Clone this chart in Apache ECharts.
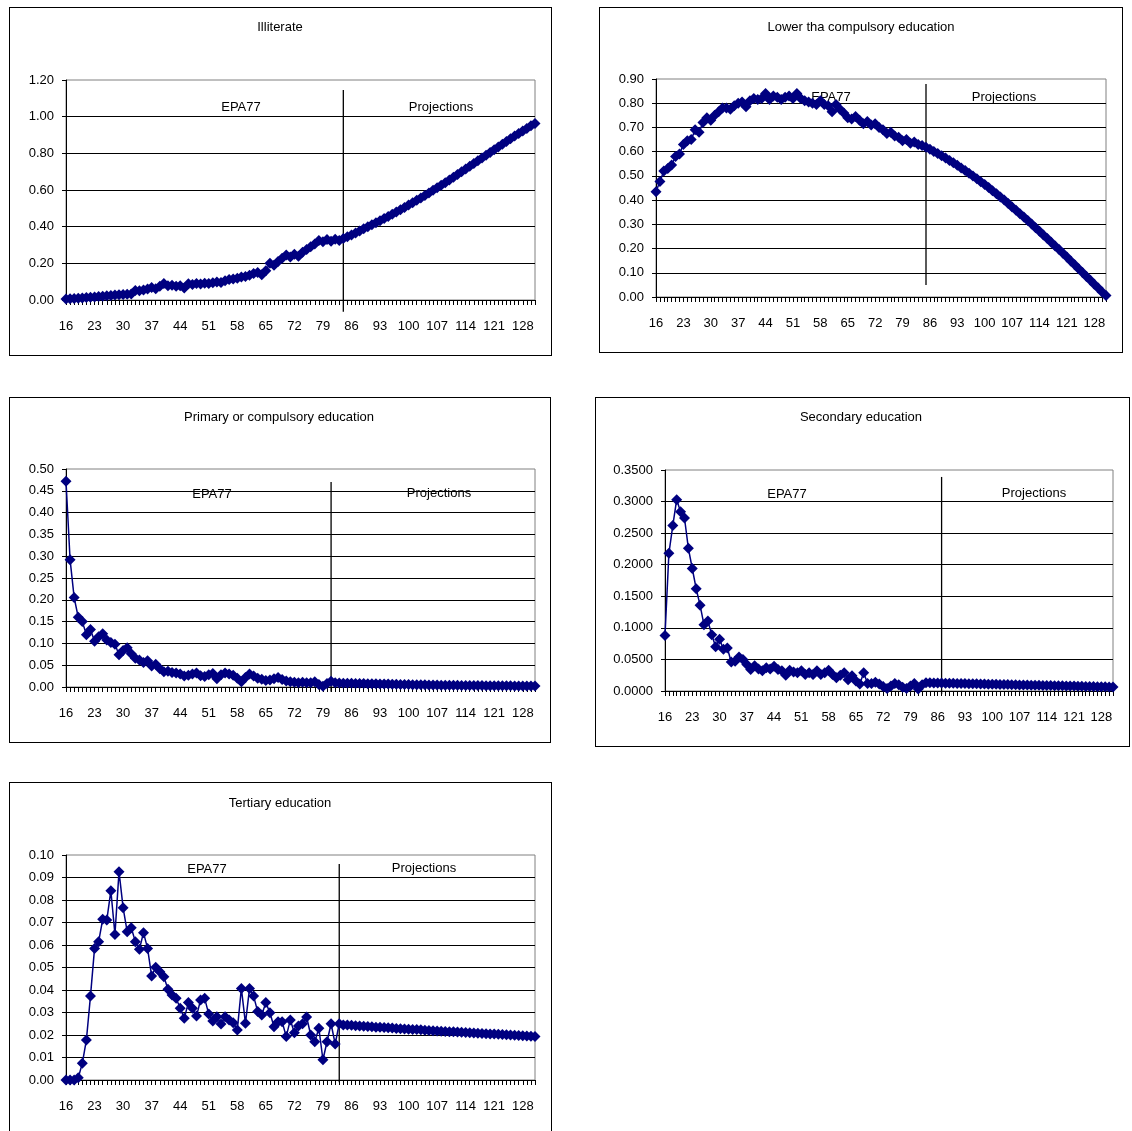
<!DOCTYPE html>
<html><head><meta charset="utf-8">
<script src="https://cdn.jsdelivr.net/npm/echarts@6/dist/echarts.min.js"></script>
<style>
html,body{margin:0;padding:0;background:#fff;width:1132px;height:1131px;overflow:hidden;}
.panel{position:absolute;box-sizing:border-box;border:1px solid #000;background:#fff;}
</style></head><body>
<div id="p1" class="panel" style="left:9px;top:7px;width:543px;height:349px"></div>
<div id="p2" class="panel" style="left:599px;top:7px;width:524px;height:346px"></div>
<div id="p3" class="panel" style="left:9px;top:397px;width:542px;height:346px"></div>
<div id="p4" class="panel" style="left:595px;top:397px;width:535px;height:350px"></div>
<div id="p5" class="panel" style="left:9px;top:782px;width:543px;height:360px"></div>
<script>
// ---------- DATA ----------
const ages = [
  16,17,18,19,20,21,22,23,24,25,
  26,27,28,29,30,31,32,33,34,35,
  36,37,38,39,40,41,42,43,44,45,
  46,47,48,49,50,51,52,53,54,55,
  56,57,58,59,60,61,62,63,64,65,
  66,67,68,69,70,71,72,73,74,75,
  76,77,78,79,80,81,82,83,84,85,
  86,87,88,89,90,91,92,93,94,95,
  96,97,98,99,100,101,102,103,104,105,
  106,107,108,109,110,111,112,113,114,115,
  116,117,118,119,120,121,122,123,124,125,
  126,127,128,129,130,131
];

const illiterate = [
  0.005,0.007,0.008,0.010,0.011,0.013,0.015,0.017,0.019,0.021,
  0.023,0.025,0.027,0.029,0.030,0.032,0.033,0.052,0.050,0.055,
  0.060,0.068,0.062,0.075,0.090,0.078,0.080,0.075,0.078,0.066,
  0.088,0.085,0.090,0.087,0.092,0.090,0.094,0.098,0.096,0.105,
  0.112,0.115,0.118,0.125,0.128,0.135,0.145,0.150,0.138,0.160,
  0.200,0.190,0.210,0.228,0.245,0.235,0.250,0.238,0.260,0.275,
  0.290,0.305,0.325,0.318,0.330,0.320,0.332,0.325,0.335,0.345,
  0.355,0.366,0.377,0.388,0.399,0.410,0.421,0.432,0.444,0.456,
  0.468,0.480,0.492,0.505,0.518,0.531,0.544,0.557,0.570,0.584,
  0.598,0.612,0.626,0.640,0.655,0.670,0.685,0.700,0.715,0.730,
  0.745,0.760,0.775,0.790,0.805,0.820,0.835,0.850,0.865,0.880,
  0.894,0.908,0.922,0.936,0.950,0.963
];

const lowerCompulsory = [
  0.435,0.477,0.520,0.530,0.545,0.580,0.590,0.630,0.645,0.650,
  0.690,0.680,0.720,0.740,0.730,0.750,0.765,0.780,0.780,0.775,
  0.790,0.800,0.805,0.785,0.810,0.820,0.815,0.820,0.840,0.815,
  0.830,0.825,0.815,0.825,0.830,0.820,0.840,0.820,0.810,0.805,
  0.800,0.795,0.810,0.795,0.790,0.765,0.795,0.775,0.760,0.740,
  0.735,0.745,0.730,0.715,0.725,0.710,0.715,0.700,0.690,0.675,
  0.680,0.665,0.660,0.645,0.650,0.635,0.640,0.630,0.625,0.618,
  0.610,0.601,0.592,0.583,0.574,0.564,0.554,0.544,0.533,0.522,
  0.511,0.500,0.488,0.476,0.464,0.452,0.439,0.426,0.413,0.400,
  0.386,0.372,0.358,0.344,0.330,0.316,0.301,0.286,0.271,0.256,
  0.241,0.226,0.211,0.196,0.181,0.165,0.149,0.133,0.117,0.101,
  0.085,0.069,0.053,0.037,0.021,0.006
];

const primary = [
  0.472,0.292,0.205,0.160,0.150,0.120,0.132,0.105,0.115,0.122,
  0.108,0.102,0.098,0.074,0.084,0.090,0.076,0.066,0.062,0.056,
  0.060,0.048,0.052,0.042,0.035,0.036,0.033,0.032,0.030,0.025,
  0.027,0.030,0.032,0.026,0.024,0.028,0.031,0.019,0.028,0.032,
  0.030,0.027,0.020,0.012,0.022,0.030,0.025,0.020,0.018,0.015,
  0.016,0.019,0.022,0.017,0.014,0.012,0.011,0.010,0.011,0.010,
  0.010,0.012,0.006,0.002,0.008,0.013,0.010,0.009,0.0088,0.0086,
  0.0084,0.0082,0.0080,0.0078,0.0076,0.0074,0.0072,0.0070,0.0068,0.0066,
  0.0064,0.0062,0.0060,0.0058,0.0056,0.0054,0.0052,0.0050,0.0049,0.0047,
  0.0046,0.0044,0.0043,0.0042,0.0040,0.0039,0.0038,0.0037,0.0036,0.0035,
  0.0034,0.0033,0.0032,0.0031,0.0030,0.0029,0.0028,0.0027,0.0027,0.0026,
  0.0025,0.0025,0.0024,0.0023,0.0023,0.0022
];

const secondary = [
  0.088,0.218,0.262,0.303,0.284,0.274,0.226,0.194,0.162,0.136,
  0.105,0.111,0.089,0.070,0.082,0.066,0.068,0.046,0.047,0.054,
  0.050,0.042,0.034,0.040,0.035,0.032,0.037,0.035,0.039,0.034,
  0.032,0.025,0.033,0.030,0.029,0.032,0.026,0.029,0.026,0.032,
  0.026,0.029,0.033,0.026,0.021,0.025,0.029,0.018,0.024,0.016,
  0.011,0.029,0.012,0.012,0.014,0.011,0.007,0.004,0.008,0.012,
  0.010,0.006,0.004,0.008,0.012,0.003,0.010,0.013,0.0130,0.0128,
  0.0127,0.0125,0.0124,0.0122,0.0121,0.0120,0.0118,0.0117,0.0115,0.0114,
  0.0113,0.0111,0.0110,0.0108,0.0107,0.0106,0.0104,0.0103,0.0101,0.0100,
  0.0099,0.0097,0.0096,0.0094,0.0093,0.0092,0.0090,0.0089,0.0087,0.0086,
  0.0085,0.0083,0.0082,0.0080,0.0079,0.0078,0.0076,0.0075,0.0073,0.0072,
  0.0071,0.0069,0.0068,0.0066,0.0065,0.0064
];

const tertiary = [
  0.000,0.000,0.000,0.001,0.0074,0.0178,0.0373,0.0585,0.0615,0.0714,
  0.0711,0.0841,0.0647,0.0926,0.0766,0.0659,0.0677,0.0615,0.0581,0.0655,
  0.0585,0.0462,0.0501,0.0481,0.0459,0.0403,0.0378,0.0363,0.0319,0.0274,
  0.0344,0.0319,0.0284,0.0356,0.0363,0.0293,0.0262,0.0281,0.0249,0.0281,
  0.0267,0.0255,0.0222,0.0407,0.0252,0.0407,0.0373,0.0304,0.0289,0.0344,
  0.0299,0.0237,0.0259,0.0259,0.0193,0.0267,0.0210,0.0240,0.0250,0.0280,
  0.0200,0.0170,0.0230,0.0090,0.0170,0.0250,0.0160,0.0250,0.0245,0.0244,
  0.0243,0.0241,0.0240,0.0239,0.0238,0.0237,0.0235,0.0234,0.0233,0.0232,
  0.0231,0.0229,0.0228,0.0227,0.0226,0.0225,0.0224,0.0223,0.0221,0.0220,
  0.0219,0.0218,0.0217,0.0216,0.0215,0.0214,0.0213,0.0212,0.0211,0.0210,
  0.0209,0.0208,0.0207,0.0206,0.0205,0.0204,0.0203,0.0202,0.0201,0.0200,
  0.0199,0.0198,0.0197,0.0196,0.0195,0.0193
];

const panelTitles = ['Illiterate', 'Lower tha compulsory education', 'Primary or compulsory education', 'Secondary education', 'Tertiary education'];
const periodLabels = ['EPA77', 'Projections'];
const yMax = [1.2, 0.9, 0.5, 0.35, 0.1];
const yStep = [0.2, 0.1, 0.05, 0.05, 0.01];
const yDecimals = [2, 2, 2, 4, 2];
const dividerAge = ['84', '85', '81', '87', '83'];
const dividerTop = [1.145, 0.879, 0.47, 0.339, 0.096];
const dividerBottom = [-0.064, 0.0495, -0.011, -0.005, -0.001];

// ---------- LAYOUT ----------
const layouts = [
  {el:'p1', ox:10, oy:8, grid:{left:56, top:72, width:469, height:220}, title:[280,27], epa:[241,107], proj:[441,107]},
  {el:'p2', ox:600, oy:8, grid:{left:56, top:71, width:450, height:218}, title:[861,27], epa:[831,97], proj:[1004,97]},
  {el:'p3', ox:10, oy:398, grid:{left:56, top:71, width:469, height:218}, title:[279,417], epa:[212,494], proj:[439,493]},
  {el:'p4', ox:596, oy:398, grid:{left:69, top:72, width:448, height:221}, title:[861,417], epa:[787,494], proj:[1034,493]},
  {el:'p5', ox:10, oy:783, grid:{left:56, top:72, width:469, height:225}, title:[280,803], epa:[207,869], proj:[424,868]}
];
const seriesList = [illiterate, lowerCompulsory, primary, secondary, tertiary];

const FONT = '"Liberation Sans", Arial, sans-serif';
const NAVY = '#000080';
const cats = ages.map(String);

function txt(text, pos, L) {
  return {
    type: 'text', x: pos[0] - L.ox, y: pos[1] - L.oy, silent: true,
    style: { text: text, fill: '#000', font: '13px ' + FONT, align: 'center', verticalAlign: 'middle' }
  };
}

layouts.forEach(function (L, i) {
  const chart = echarts.init(document.getElementById(L.el), null, { renderer: 'canvas' });
  const dec = yDecimals[i];
  chart.setOption({
    animation: false,
    grid: Object.assign({ show: true, borderColor: '#808080', borderWidth: 1, backgroundColor: '#fff' }, L.grid),
    xAxis: {
      type: 'category', data: cats, boundaryGap: false,
      axisLine: { show: true, lineStyle: { color: '#000', width: 1 } },
      axisTick: { show: true, interval: 0, length: 5, inside: false, lineStyle: { color: '#000', width: 1 } },
      axisLabel: { interval: 6, margin: 20, color: '#000', fontSize: 13, fontFamily: FONT },
      splitLine: { show: false }
    },
    yAxis: {
      type: 'value', min: 0, max: yMax[i], interval: yStep[i],
      axisLine: { show: true, lineStyle: { color: '#000', width: 1 } },
      axisTick: { show: true, length: 4, inside: false, lineStyle: { color: '#000' } },
      axisLabel: { margin: 12, color: '#000', fontSize: 13, fontFamily: FONT, formatter: function (v) { return v.toFixed(dec); } },
      splitLine: { show: true, showMaxLine: false, lineStyle: { color: '#000', width: 1 } }
    },
    graphic: [
      txt(panelTitles[i], L.title, L),
      txt(periodLabels[0], L.epa, L),
      txt(periodLabels[1], L.proj, L)
    ],
    series: [
      {
        type: 'line', z: 1, clip: false, silent: true, symbol: 'none',
        lineStyle: { color: '#000', width: 1.3 },
        data: [[dividerAge[i], dividerTop[i]], [dividerAge[i], dividerBottom[i]]]
      },
      {
        type: 'line', z: 3, data: seriesList[i],
        symbol: 'diamond', symbolSize: 11, showAllSymbol: true,
        itemStyle: { color: NAVY, borderWidth: 0 },
        lineStyle: { color: NAVY, width: 1.5 }
      }
    ]
  });
});
</script>
</body></html>
